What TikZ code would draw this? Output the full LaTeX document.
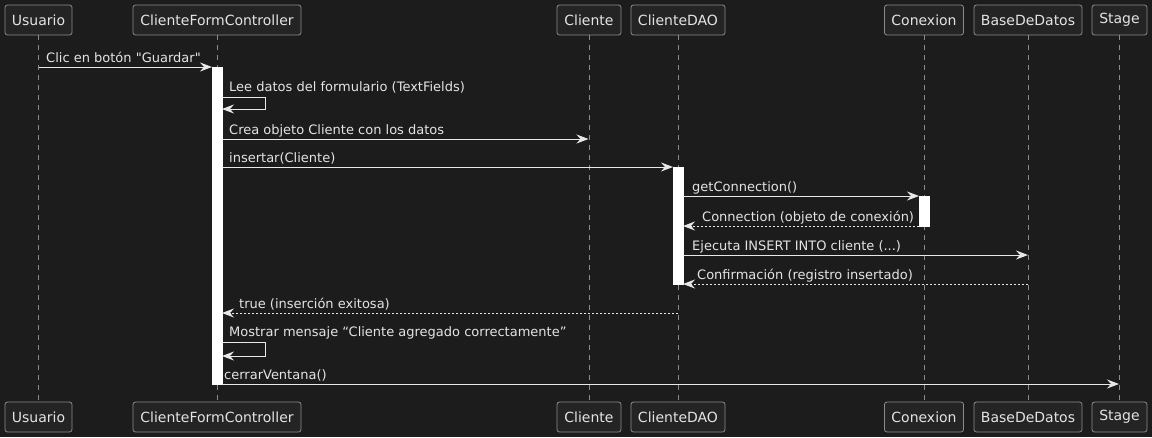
\documentclass[tikz,border=0pt]{standalone}
\usepackage{fontspec}
\setmainfont{DejaVu Sans}
\usetikzlibrary{arrows.meta}
\font\plainqfont="DejaVu Sans" at 13pt
\newcommand{\sq}{{\plainqfont\char34}}
\definecolor{bg}{HTML}{1C1C1C}
\definecolor{boxfill}{HTML}{242424}
\definecolor{boxline}{HTML}{8C8C8C}
\definecolor{txt}{HTML}{E4E4E4}
\definecolor{arr}{HTML}{E8E8E8}
\definecolor{life}{HTML}{8C8C8C}
\tikzset{
  part/.style={draw=boxline, fill=boxfill, rounded corners=2.5pt, minimum height=30pt,
    inner xsep=6pt, inner ysep=0pt, text=txt, line width=0.8pt,
    font=\fontsize{14}{16}\selectfont},
  lifeline/.style={draw=life, line width=0.8pt, dash pattern=on 5pt off 5pt},
  actbar/.style={fill=white, draw=white, line width=0.5pt},
  msg/.style={draw=arr, line width=1pt, -{Stealth[length=12pt,width=9pt,inset=4pt,fill=arr]}},
  ret/.style={msg, dash pattern=on 2pt off 2pt},
  lbl/.style={anchor=base west, inner sep=0pt, text=txt},
}
\begin{document}
\begin{tikzpicture}[x=1pt,y=-1pt,font=\fontsize{13}{15}\selectfont]
\fill[bg] (0,0) rectangle (1152,437);
\useasboundingbox (0,0) rectangle (1152,437);

% participants (top)
\node[part, minimum width=67pt]  (uT) at (38.5,20) {Usuario};
\node[part, minimum width=168pt] (fT) at (217,20) {ClienteFormController};
\node[part, minimum width=64pt]  (cT) at (589,20) {Cliente};
\node[part, minimum width=94pt]  (dT) at (678,20) {ClienteDAO};
\node[part, minimum width=79pt]  (xT) at (924,20) {Conexion};
\node[part, minimum width=108pt] (bT) at (1028,20) {BaseDeDatos};
\node[part, minimum width=55pt]  (sT) at (1119.5,20) {Stage};
% participants (bottom)
\node[part, minimum width=67pt]  (uB) at (38.5,417) {Usuario};
\node[part, minimum width=168pt] (fB) at (217,417) {ClienteFormController};
\node[part, minimum width=64pt]  (cB) at (589,417) {Cliente};
\node[part, minimum width=94pt]  (dB) at (678,417) {ClienteDAO};
\node[part, minimum width=79pt]  (xB) at (924,417) {Conexion};
\node[part, minimum width=108pt] (bB) at (1028,417) {BaseDeDatos};
\node[part, minimum width=55pt]  (sB) at (1119.5,417) {Stage};

% lifelines
\foreach \n in {u,f,c,d,x,b,s}{
  \draw[lifeline] (\n T.south) -- (\n B.north);
}

% activation bars
\draw[actbar] (212,67) rectangle (222,384);
\draw[actbar] (673,167) rectangle (683,284);
\draw[actbar] (919,196) rectangle (929,226);

% message end points
\coordinate (m1a) at (38.5,67);  \coordinate (m1b) at (212,67);
\coordinate (m2a) at (222,97);   \coordinate (m2b) at (222,109);
\coordinate (m3a) at (222,139);  \coordinate (m3b) at (588.5,139);
\coordinate (m4a) at (222,167);  \coordinate (m4b) at (673,167);
\coordinate (m5a) at (683,196);  \coordinate (m5b) at (919,196);
\coordinate (m6a) at (919,226);  \coordinate (m6b) at (683,226);
\coordinate (m7a) at (683,255);  \coordinate (m7b) at (1028,255);
\coordinate (m8a) at (1028,284); \coordinate (m8b) at (683,284);
\coordinate (m9a) at (678,313);  \coordinate (m9b) at (222,313);
\coordinate (m10a) at (222,342); \coordinate (m10b) at (222,356);
\coordinate (m11a) at (222,384); \coordinate (m11b) at (1119,384);

% messages
\draw[msg] (m1a) -- (m1b);
\node[lbl] (l1) at (46,62) {Clic en botón \sq Guardar\sq};

\draw[msg] (m2a) -- ++(43,0) -- ++(0,12) -- (m2b);
\node[lbl] (l2) at (229,91) {Lee datos del formulario (TextFields)};

\draw[msg] (m3a) -- (m3b);
\node[lbl] (l3) at (229,134) {Crea objeto Cliente con los datos};

\draw[msg] (m4a) -- (m4b);
\node[lbl] (l4) at (229,162) {insertar(Cliente)};

\draw[msg] (m5a) -- (m5b);
\node[lbl] (l5) at (692,191) {getConnection()};

\draw[ret] (m6a) -- (m6b);
\node[lbl] (l6) at (702,221) {Connection (objeto de conexión)};

\draw[msg] (m7a) -- (m7b);
\node[lbl] (l7) at (692,250) {Ejecuta INSERT INTO cliente (...)};

\draw[ret] (m8a) -- (m8b);
\node[lbl] (l8) at (697,279) {Confirmación (registro insertado)};

\draw[ret] (m9a) -- (m9b);
\node[lbl] (l9) at (239,308) {true (inserción exitosa)};

\draw[msg] (m10a) -- ++(43,0) -- ++(0,14) -- (m10b);
\node[lbl] (l10) at (229,336) {Mostrar mensaje “Cliente agregado correctamente”};

\draw[msg] (m11a) -- (m11b);
\node[lbl] (l11) at (224,379) {cerrarVentana()};
\end{tikzpicture}
\end{document}
